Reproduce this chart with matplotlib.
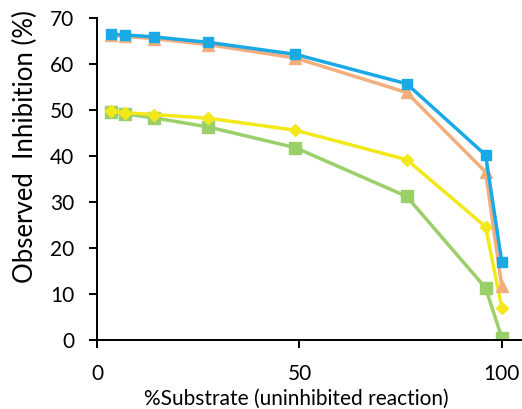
import matplotlib
matplotlib.use("Agg")
import matplotlib.pyplot as plt

# data
substrate = [3.5, 7, 14, 27.5, 49, 76.5, 96, 100]
orange_vals = [66.2, 66.0, 65.5, 64.2, 61.3, 53.8, 36.5, 11.7]
blue_vals = [66.5, 66.3, 65.9, 64.7, 62.1, 55.7, 40.2, 17.0]
yellow_vals = [49.8, 49.4, 49.0, 48.2, 45.6, 39.2, 24.6, 7.0]
green_vals = [49.6, 49.1, 48.3, 46.3, 41.8, 31.2, 11.3, 0.5]

x_ticks = [0, 50, 100]
y_ticks = [0, 10, 20, 30, 40, 50, 60, 70]

plt.rcParams['font.family'] = ['Lato', 'DejaVu Sans']

fig = plt.figure(figsize=(5.22, 4.09), dpi=100)
ax = fig.add_axes([0.186, 0.169, 0.814, 0.787])

ax.plot(substrate, green_vals, color='#9ACF6A', lw=2.5, marker='s', ms=9, zorder=2)
ax.plot(substrate, yellow_vals, color='#F2E81A', lw=2.5, marker='D', ms=6.5, zorder=3)
ax.plot(substrate, orange_vals, color='#F3AE7E', lw=2.5, marker='^', ms=8, zorder=4)
ax.plot(substrate, blue_vals, color='#1AA9E4', lw=2.5, marker='s', ms=7.5, zorder=5)

ax.set_xlim(0, 105)
ax.set_ylim(0, 70)
ax.set_xticks(x_ticks)
ax.set_yticks(y_ticks)
ax.tick_params(labelsize=15, width=1.4, length=5.5, direction='out')
ax.tick_params(axis='y', pad=11)
ax.tick_params(axis='x', pad=12)

for s in ['top', 'right']:
    ax.spines[s].set_visible(False)
for s in ['left', 'bottom']:
    ax.spines[s].set_linewidth(1.4)

ax.set_xlabel('%Substrate (uninhibited reaction)', fontsize=15)
ax.set_ylabel('Observed  Inhibition (%)', fontsize=18.5)
ax.xaxis.set_label_coords(0.47, -0.153)
ax.yaxis.set_label_coords(-0.14, 0.602)

fig.savefig('out.png', dpi=100)
